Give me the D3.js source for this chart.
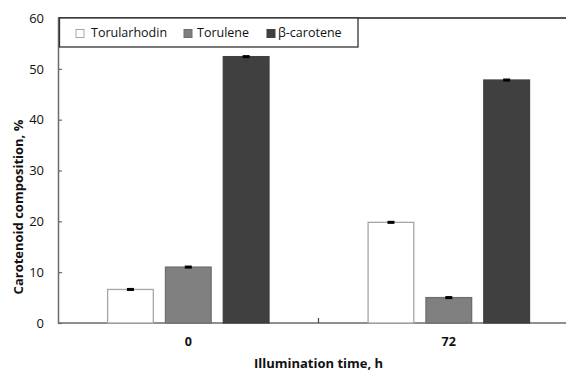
<!DOCTYPE html>
<html>
<head>
<meta charset="utf-8">
<script src="https://cdn.jsdelivr.net/npm/d3@7"></script>
<style>
  html, body { margin: 0; padding: 0; background: #fff; }
  svg { display: block; font-family: "Open Sans", sans-serif; }
</style>
</head>
<body>
<svg id="chart" width="566" height="372"></svg>
<script>
// Illumination times (h) and carotenoid series
const categories = ["0", "72"];
const series = ["Torularhodin", "Torulene", "β-carotene"];
const torularhodin = [6.6, 19.8];
const torulene = [11.0, 5.0];
const betaCarotene = [52.4, 47.8];
const errors = [[0.2, 0.2], [0.2, 0.2], [0.2, 0.2]];
const yTicks = [0, 10, 20, 30, 40, 50, 60];

const values = [torularhodin, torulene, betaCarotene];
const fills = ["#ffffff", "#808080", "#404040"];
const strokes = ["#a6a6a6", "#6e6e6e", "#404040"];

const svg = d3.select("#chart");
const plotLeft = 58, plotTop = 18, plotBottom = 323, plotRight = 579;

const y = d3.scaleLinear().domain([0, 60]).range([plotBottom, plotTop]);
const x0 = d3.scaleBand().domain(categories).range([plotLeft, plotRight]);
const x1 = d3.scaleBand().domain(series).range([49.6, 211]).paddingInner(0.21);

// top frame line
svg.append("line")
  .attr("x1", plotLeft).attr("x2", plotRight)
  .attr("y1", plotTop).attr("y2", plotTop)
  .attr("stroke", "#555").attr("stroke-width", 2);

// y axis
const yAxis = svg.append("g").attr("transform", `translate(${plotLeft},0)`)
  .call(d3.axisLeft(y).tickValues(yTicks).tickSizeInner(-4).tickSizeOuter(0).tickPadding(14));
yAxis.select(".domain").attr("stroke", "#6b6b6b").attr("stroke-width", 1.5);
yAxis.selectAll(".tick line").attr("stroke", "#6b6b6b").attr("stroke-width", 1.2);
yAxis.selectAll(".tick text").attr("font-size", 13).attr("fill", "#111")
  .attr("font-family", "'Open Sans', sans-serif");

// x axis with separators between groups
const xAxis = svg.append("g").attr("transform", `translate(0,${plotBottom})`);
xAxis.append("line").attr("x1", plotLeft).attr("x2", plotRight)
  .attr("stroke", "#6b6b6b").attr("stroke-width", 1.5);
categories.slice(1).forEach(c => {
  const xs = x0(c);
  xAxis.append("line").attr("x1", xs).attr("x2", xs).attr("y1", 0).attr("y2", -5)
    .attr("stroke", "#444").attr("stroke-width", 1.2);
});
xAxis.selectAll("text.cat").data(categories).enter().append("text")
  .attr("class", "cat")
  .attr("x", d => x0(d) + x0.bandwidth() / 2)
  .attr("y", 23)
  .attr("text-anchor", "middle")
  .attr("font-size", 12.5).attr("font-weight", "bold").attr("fill", "#111")
  .text(d => d);

// bars
series.forEach((s, si) => {
  const g = svg.append("g");
  g.selectAll("rect").data(categories).enter().append("rect")
    .attr("x", c => x0(c) + x1(s))
    .attr("y", (c, ci) => y(values[si][ci]))
    .attr("width", x1.bandwidth())
    .attr("height", (c, ci) => y(0) - y(values[si][ci]))
    .attr("fill", fills[si])
    .attr("stroke", strokes[si])
    .attr("stroke-width", 1.3);
  // error bars
  categories.forEach((c, ci) => {
    const cx = x0(c) + x1(s) + x1.bandwidth() / 2;
    const v = values[si][ci], e = errors[si][ci];
    g.append("rect")
      .attr("x", cx - 3.5).attr("width", 7)
      .attr("y", y(v + e) - 0.5)
      .attr("height", Math.max(2.5, y(v - e) - y(v + e) + 1))
      .attr("fill", "#000");
  });
});

// legend
const lg = svg.append("g");
lg.append("rect").attr("x", 59.5).attr("y", 18).attr("width", 298.5).attr("height", 29)
  .attr("fill", "#fff").attr("stroke", "#333").attr("stroke-width", 1.3);
const legMarkX = [76, 184, 267];
const legTextX = [91, 197, 278];
series.forEach((s, si) => {
  lg.append("rect").attr("x", legMarkX[si]).attr("y", 29.5).attr("width", 8).attr("height", 8)
    .attr("fill", fills[si]).attr("stroke", si === 0 ? "#a6a6a6" : strokes[si]).attr("stroke-width", 1);
  lg.append("text").attr("x", legTextX[si]).attr("y", 37)
    .attr("font-size", 12.5).attr("fill", "#111").text(s);
});

// axis titles
svg.append("text")
  .attr("x", (plotLeft + plotRight) / 2).attr("y", 368)
  .attr("text-anchor", "middle")
  .attr("font-size", 13).attr("font-weight", "bold").attr("fill", "#111")
  .text("Illumination time, h");

svg.append("text")
  .attr("transform", "translate(23,207) rotate(-90)")
  .attr("text-anchor", "middle")
  .attr("font-size", 13).attr("font-weight", "bold").attr("fill", "#111")
  .text("Carotenoid composition, %");
</script>
</body>
</html>
